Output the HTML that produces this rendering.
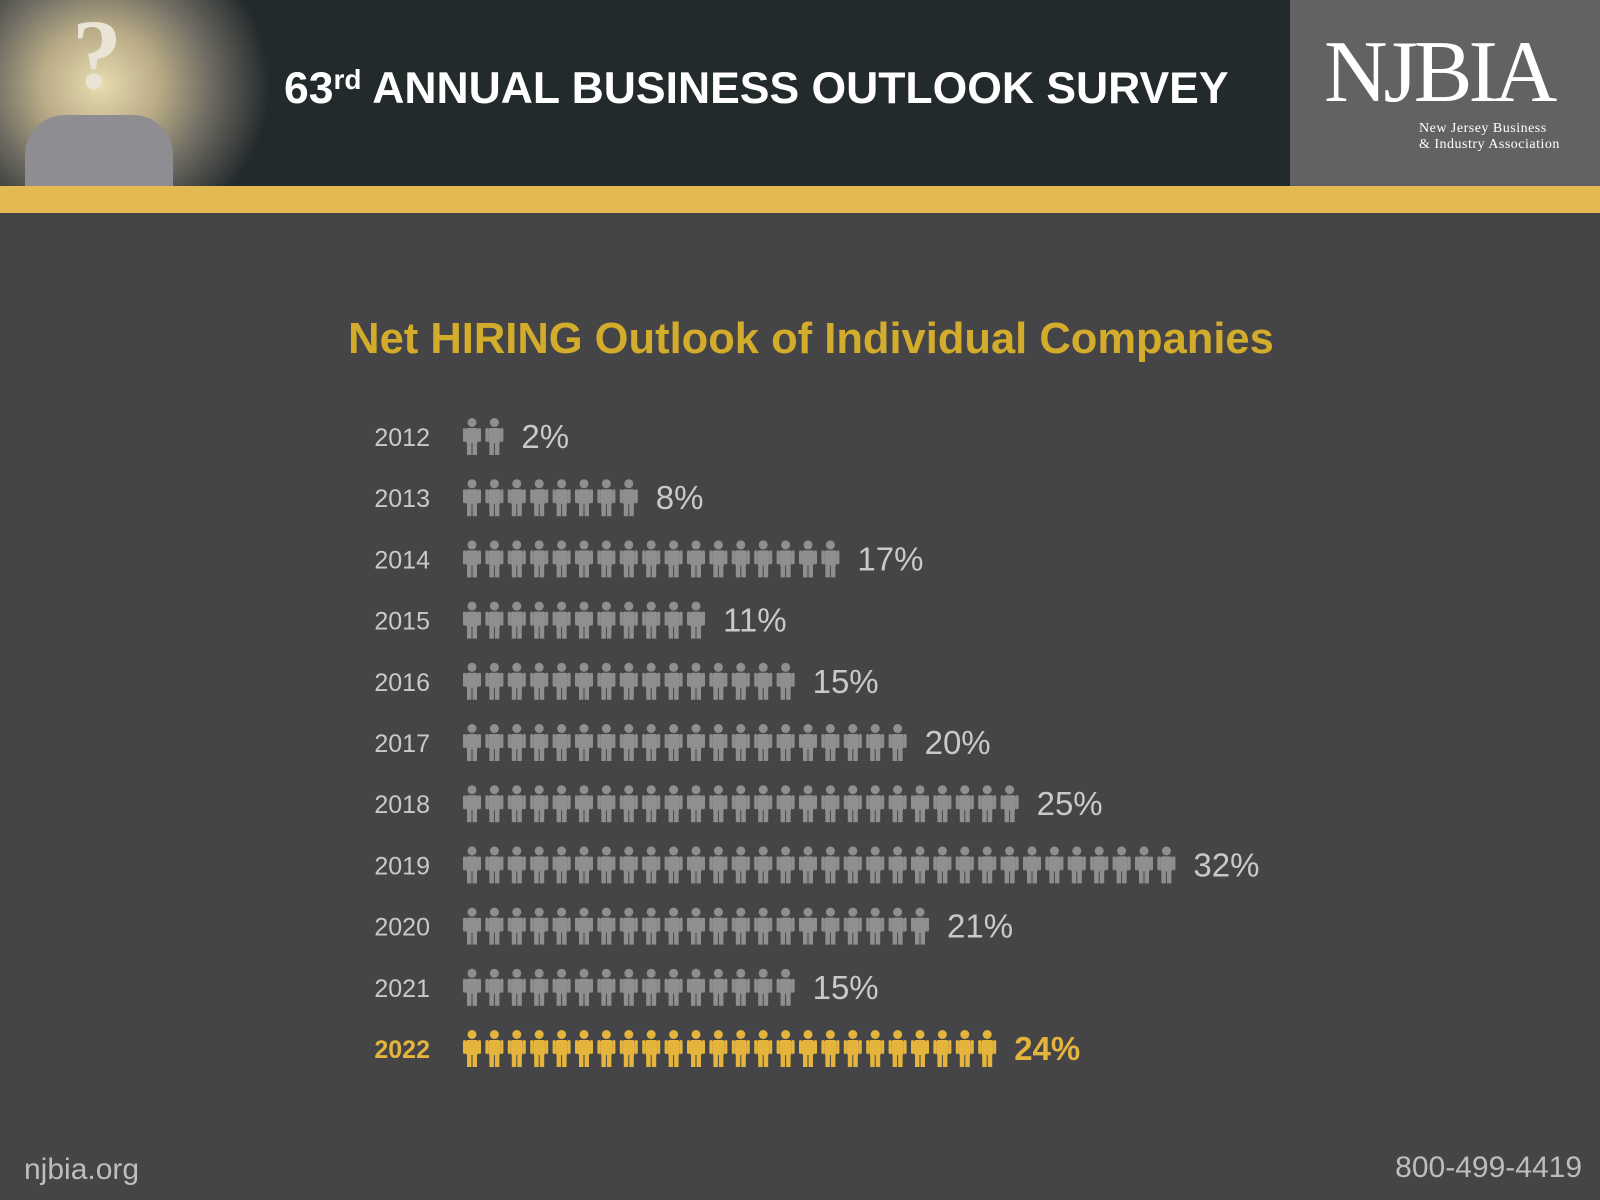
<!DOCTYPE html>
<html><head><meta charset="utf-8"><style>
body{margin:0;width:1600px;height:1200px;background:#454547;position:relative;overflow:hidden;font-family:"Liberation Sans",sans-serif}
.abs{position:absolute}
</style></head><body>
<div class="abs" style="left:0;top:0;width:1600px;height:186px;background:#232a2c"></div>
<div class="abs" style="left:0;top:0;width:330px;height:186px;background:radial-gradient(ellipse 170px 160px at 100px 85px,#e8dcb0 0%,#b8ab86 35%,#6e6b62 65%,#232a2c 100%)">
 <div class="abs" style="left:25px;top:115px;width:148px;height:71px;background:#8e8e92;border-radius:40px 40px 0 0"></div>
 <div class="abs" style="left:62px;top:0px;width:70px;height:110px;color:#e9e4d6;font:bold 100px 'Liberation Serif',serif;line-height:110px;text-align:center">?</div>
</div>
<div class="abs" style="left:284px;top:64px;color:#fff;font-weight:bold;font-size:44.5px;white-space:nowrap">63<sup style="font-size:28px;vertical-align:14px">rd</sup> ANNUAL BUSINESS OUTLOOK SURVEY</div>
<div class="abs" style="left:1290px;top:0;width:310px;height:186px;background:#626164">
 <div class="abs" style="left:34px;top:28px;color:#fff;font:88px 'Liberation Serif',serif;letter-spacing:-4px;line-height:90px">NJBIA</div>
 <div class="abs" style="left:129px;top:121px;color:#fff;font:14px 'Liberation Serif',serif;line-height:16px;letter-spacing:0.5px">New Jersey Business<br>&amp; Industry Association</div>
</div>
<div class="abs" style="left:0;top:186px;width:1600px;height:27px;background:#e5b952"></div>
<div class="abs" style="left:0;top:315px;width:1622px;text-align:center;color:#d4ac2b;font-weight:bold;font-size:43.5px">Net HIRING Outlook of Individual Companies</div>
<svg class="abs" style="left:0;top:0" width="1600" height="1200" id="chart"></svg>
<div class="abs" style="left:24px;top:1153px;color:#bdbdbd;font-size:30px">njbia.org</div>
<div class="abs" style="right:18px;top:1151px;color:#bdbdbd;font-size:30px">800-499-4419</div>
<script>
const years=["2012","2013","2014","2015","2016","2017","2018","2019","2020","2021","2022"];
const values=[2,8,17,11,15,20,25,32,21,15,24];
const highlight=[false,false,false,false,false,false,false,false,false,false,true];
const NS="http://www.w3.org/2000/svg";
const svg=document.getElementById('chart');
const x0=463,pitch=22.4,y0=437,rowH=61.2;
function yPos(i){return y0+i*rowH;}
function xPos(k){return x0+k*pitch;}
function mk(t,a){const e=document.createElementNS(NS,t);for(const k in a)e.setAttribute(k,a[k]);return e;}
years.forEach((yr,i)=>{
 const c=highlight[i]?'#e5b43c':'#8f8f8f', tc=highlight[i]?'#e5b43c':'#c9c9c9';
 const yc=yPos(i);
 const lab=mk('text',{x:430,y:yc+9,'text-anchor':'end','font-size':25,fill:tc,'font-family':'Liberation Sans','font-weight':highlight[i]?'bold':'normal'});
 
 
 lab.textContent=yr;svg.appendChild(lab);
 const g=mk('g',{fill:c});
 
 
 for(let k=0;k<values[i];k++){
  const x=xPos(k),t=yc-19;
  g.appendChild(mk('circle',{cx:x+9,cy:t+4.5,r:4.5}));
  g.appendChild(mk('rect',{x:x+3,y:t+10,width:12,height:15,rx:2}));
  g.appendChild(mk('rect',{x:x,y:t+10,width:3,height:14,rx:1.5}));
  g.appendChild(mk('rect',{x:x+15,y:t+10,width:3,height:14,rx:1.5}));
  g.appendChild(mk('rect',{x:x+4,y:t+24,width:4.5,height:13}));
  g.appendChild(mk('rect',{x:x+9.5,y:t+24,width:4.5,height:13}));
 }
 svg.appendChild(g);
 const v=mk('text',{x:xPos(values[i]-1)+18+18,y:yc+11,'font-size':33,fill:tc,'font-family':'Liberation Sans','font-weight':highlight[i]?'bold':'normal'});
 
 
 v.textContent=values[i]+'%';svg.appendChild(v);
});
</script>
</body></html>
